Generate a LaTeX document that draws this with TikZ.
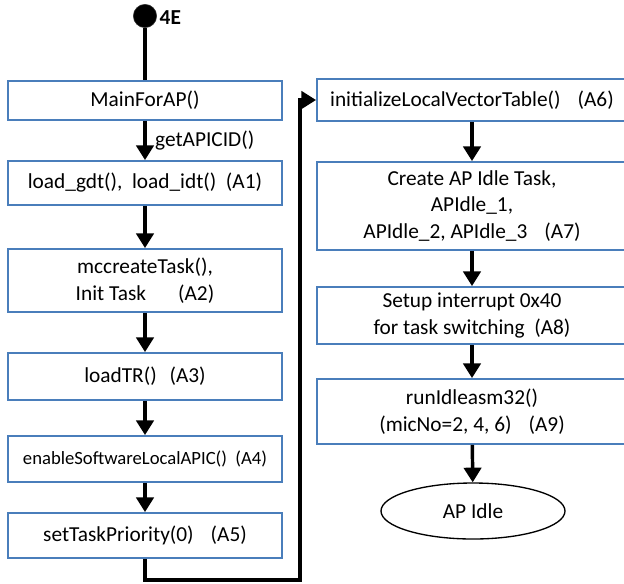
\documentclass[tikz,border=0pt]{standalone}
\usepackage{fontspec}
\setmainfont{Carlito}
\usetikzlibrary{arrows.meta,shapes.geometric}
\definecolor{boxblue}{RGB}{74,126,187}
\begin{document}
\begin{tikzpicture}[x=0.75pt,y=-0.75pt,
  box/.style={draw=boxblue,line width=1.4pt,fill=white,inner sep=0pt,align=center,
    font=\fontsize{16}{20}\selectfont},
  lbox/.style={box,minimum width=205.5pt,minimum height=#1},
  rbox/.style={box,minimum width=232.5pt,minimum height=#1},
  flow/.style={line width=2.6pt,-{Triangle[width=13pt,length=11pt]}},
  link/.style={line width=2.6pt}]
\useasboundingbox (0,0) rectangle (624,583);
\clip (0,0) rectangle (624,583);

% start marker
\node[circle,fill=black,draw=black!80,minimum size=17.5pt,inner sep=0pt] (start) at (145,16) {};
\node[anchor=west,font=\fontsize{16}{18}\selectfont\bfseries] (tag) at (155,18) {4E};

% left column
\node[lbox=29.25pt] (m0) at (145,100.5) {MainForAP()};
\node[lbox=33pt]    (a1) at (145,183) {load\_gdt(),\hspace{0.45em}load\_idt()\hspace{0.45em}(A1)};
\node[lbox=47.25pt] (a2) at (145,280.5) {mccreateTask(),\\Init Task\hspace{1.5em}(A2)};
\node[lbox=35.25pt] (a3) at (145,376.5) {loadTR()\hspace{0.6em}(A3)};
\node[lbox=34.5pt,font=\fontsize{14}{17}\selectfont] (a4) at (145,459) {enableSoftwareLocalAPIC()\hspace{0.45em}(A4)};
\node[lbox=33.75pt] (a5) at (145,535.5) {setTaskPriority(0)\hspace{0.8em}(A5)};

% right column
\node[rbox=31.5pt]  (a6) at (472,100) {initializeLocalVectorTable()\hspace{0.8em}(A6)};
\node[rbox=66pt]    (a7) at (472,206) {Create AP Idle Task,\\APIdle\_1,\\APIdle\_2, APIdle\_3\hspace{0.8em}(A7)};
\node[rbox=42.75pt] (a8) at (472,315.5) {Setup interrupt 0x40\\for task switching\hspace{0.45em}(A8)};
\node[rbox=48.75pt] (a9) at (472,411.5) {runIdleasm32()\\(micNo=2, 4, 6)\hspace{0.8em}(A9)};
\node[ellipse,draw=black,line width=1pt,minimum width=138pt,minimum height=42pt,inner sep=0pt,
  font=\fontsize{16}{20}\selectfont] (idle) at (473,511) {AP Idle};

% connectors
\draw[link] (start) -- (m0.north);
\draw[flow] (m0) -- node[right,font=\fontsize{16}{20}\selectfont,xshift=3pt] (lbl) {getAPICID()} (a1);
\draw[flow] (a1) -- (a2);
\draw[flow] (a2) -- (a3);
\draw[flow] (a3) -- (a4);
\draw[flow] (a4) -- (a5);
\coordinate (c1) at (145,580);
\coordinate (c2) at (300,580);
\draw[flow] (a5.south) -- (c1) -- (c2) |- (a6.west);
\draw[flow] (a6) -- (a7);
\draw[flow] (a7) -- (a8);
\draw[flow] (a8) -- (a9);
\draw[flow] (a9) -- (idle);
\end{tikzpicture}
\end{document}
